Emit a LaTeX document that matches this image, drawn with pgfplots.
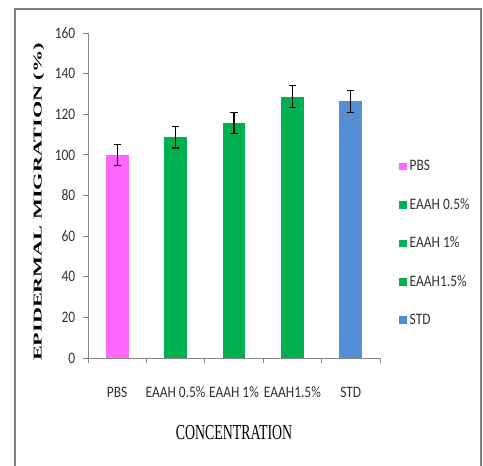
\documentclass[border=0pt]{standalone}
\usepackage{fontspec}
\usepackage{graphicx}
\usepackage{pgfplots}
\pgfplotsset{compat=1.18}
\setmainfont{Liberation Serif}
\newfontfamily\calibri[FakeStretch=0.84]{Carlito}

\definecolor{pbs}{RGB}{255,102,255}
\definecolor{eaah}{RGB}{0,176,80}
\definecolor{stdc}{RGB}{85,142,213}
\definecolor{axgray}{RGB}{134,134,134}
\definecolor{txt}{RGB}{50,50,50}
\definecolor{framegray}{RGB}{128,128,128}

\begin{document}
\begin{tikzpicture}
\useasboundingbox (-66pt,-81pt) rectangle (296.25pt,268.5pt);
% outer frame (open at the bottom edge of the page)
\draw[framegray, line width=1.3pt] (-54.75pt,-95pt) -- (-54.75pt,261.75pt) -- (294.75pt,261.75pt) -- (294.75pt,-95pt);
\begin{axis}[
  at={(0pt,0pt)}, anchor=south west,
  scale only axis, width=219pt, height=243.75pt,
  ybar, bar width=17pt,
  xmin=-0.5, xmax=4.5, ymin=0, ymax=160,
  axis x line*=bottom, axis y line*=left,
  axis line style={axgray, line width=0.6pt},
  xtick={0,1,2,3,4},
  xticklabels={PBS, EAAH 0.5\%, EAAH 1\%, EAAH1.5\%, STD},
  major x tick style={draw=none},
  minor xtick={-0.5,0.5,1.5,2.5,3.5,4.5},
  minor tick length=4pt,
  minor x tick style={axgray, line width=0.6pt},
  ytick={0,20,...,160},
  major tick length=4pt,
  tick align=outside,
  y tick style={axgray, line width=0.6pt},
  /pgf/number format/assume math mode=true,
  ticklabel style={font=\calibri\fontsize{12}{14}\selectfont, text=txt},
  xticklabel style={yshift=-14pt},
  yticklabel style={xshift=-2pt},
  xlabel={\scalebox{0.65}[1]{\fontsize{16}{19}\selectfont CONCENTRATION}},
  xlabel style={at={(axis description cs:0.5,0)}, anchor=center, yshift=-56pt},
  ylabel={\scalebox{1.85}[1]{\bfseries\fontsize{9}{11}\selectfont EPIDERMAL MIGRATION (\%)}},
  ylabel style={at={(axis description cs:-0.169,0.48)}, anchor=center},
  legend style={draw=none, fill=none, at={(axis description cs:1.052,0.625)}, anchor=north west,
    font=\calibri\fontsize{12}{14}\selectfont, text=txt, row sep=15.2pt,
    legend cell align=left},
  legend image code/.code={\fill (0pt,-2.85pt) rectangle (5.7pt,2.85pt);},
  error bars/y dir=both, error bars/y explicit,
  error bars/error bar style={black, line width=0.9pt},
  error bars/error mark options={rotate=90, black, line width=0.9pt, mark size=2.7pt},
]
\addplot[fill=pbs, draw=none, bar shift=0pt] coordinates {(0,100.0) +- (0,5.3)};
\addplot[fill=eaah, draw=none, bar shift=0pt] coordinates {(1,108.7) +- (0,5.3)};
\addplot[fill=eaah, draw=none, bar shift=0pt] coordinates {(2,115.7) +- (0,5.3)};
\addplot[fill=eaah, draw=none, bar shift=0pt] coordinates {(3,128.7) +- (0,5.4)};
\addplot[fill=stdc, draw=none, bar shift=0pt] coordinates {(4,126.3) +- (0,5.3)};
\legend{PBS, EAAH 0.5\%, EAAH 1\%, EAAH1.5\%, STD}
\end{axis}
\end{tikzpicture}
\end{document}
